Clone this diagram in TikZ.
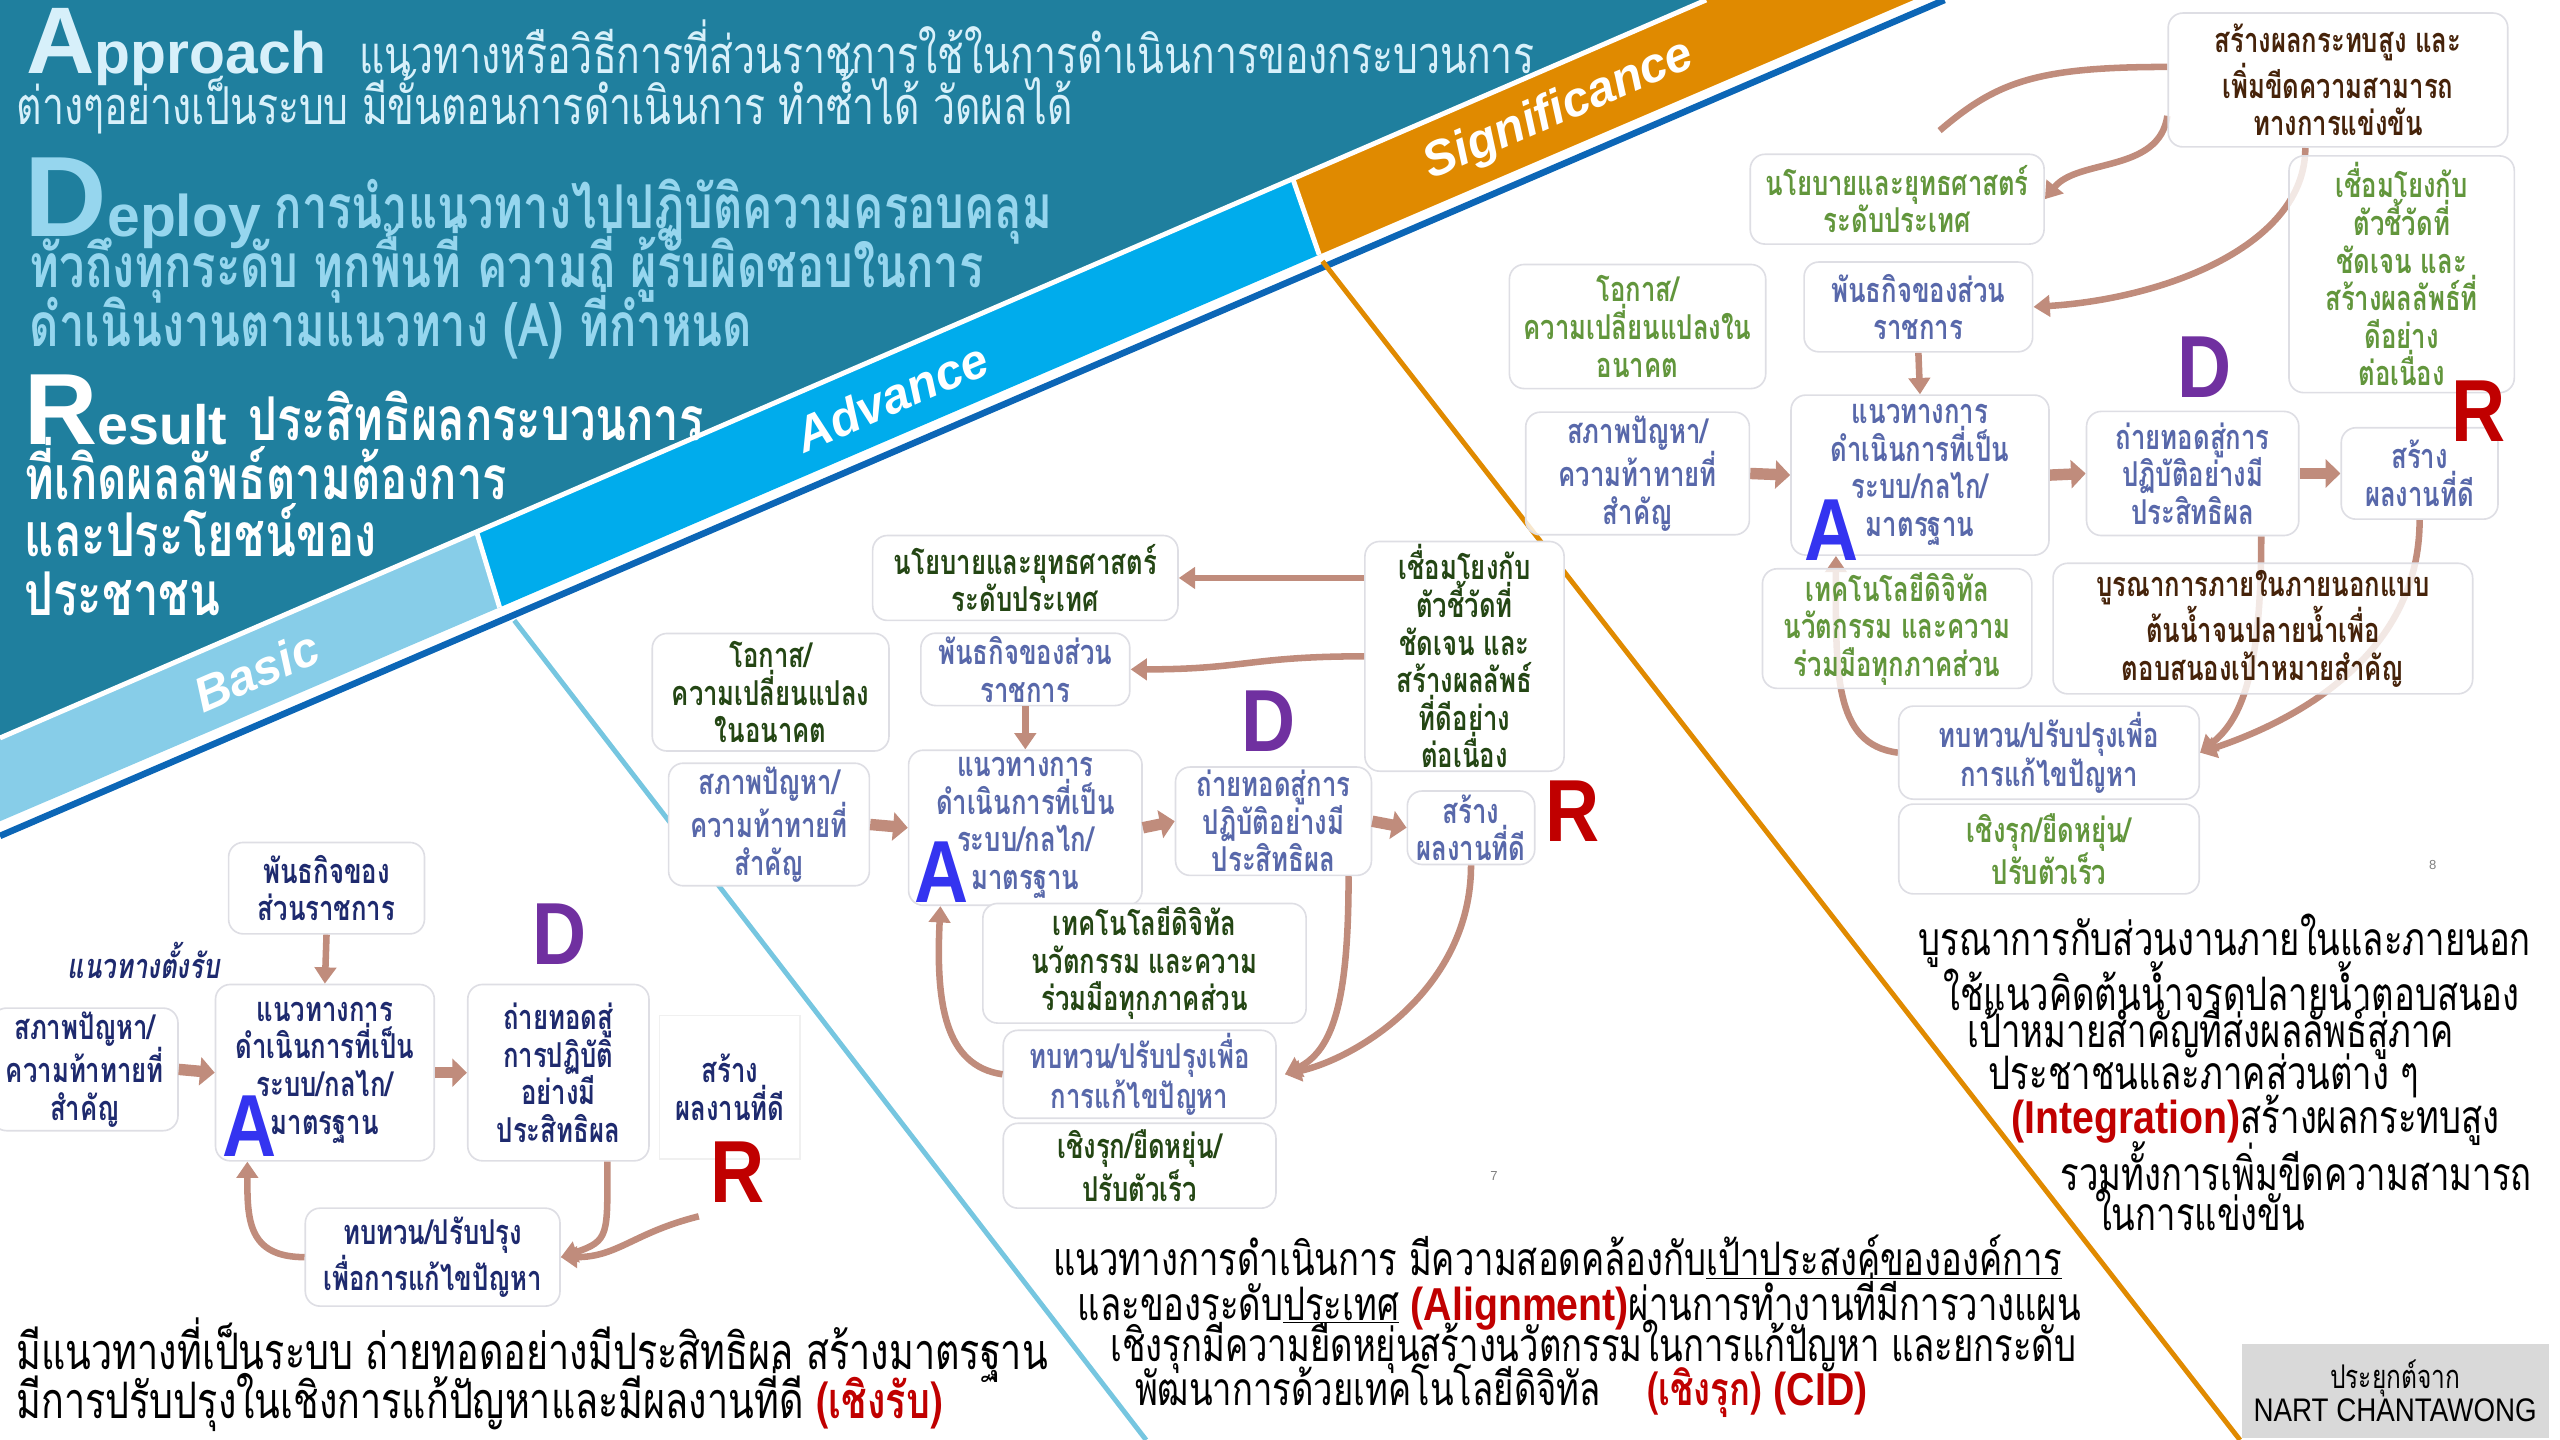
\documentclass[tikz,border=0pt]{standalone}
\usepackage{fontspec}
\setmainfont{Liberation Sans}
\newfontfamily\thai[Script=Thai]{Loma}
\newfontfamily\thain[Script=Thai,FakeStretch=0.75]{Loma}
\newfontfamily\latn[FakeStretch=0.85]{Liberation Sans}
\usetikzlibrary{arrows.meta,positioning,calc}

\definecolor{tealbg}{RGB}{31,127,158}
\definecolor{bandlt}{RGB}{135,205,232}
\definecolor{bandbl}{RGB}{0,172,236}
\definecolor{bandor}{RGB}{224,138,0}
\definecolor{linebl}{RGB}{12,102,182}
\definecolor{linelt}{RGB}{118,198,224}
\definecolor{arrc}{RGB}{192,140,124}
\definecolor{boxln}{RGB}{222,222,228}
\definecolor{navy}{RGB}{30,42,110}
\definecolor{peri}{RGB}{88,104,170}
\definecolor{grn}{RGB}{36,70,20}
\definecolor{grnlt}{RGB}{98,150,60}
\definecolor{brn}{RGB}{70,35,10}
\definecolor{letA}{RGB}{52,52,240}
\definecolor{letD}{RGB}{112,48,160}
\definecolor{letR}{RGB}{192,0,0}
\definecolor{appc}{RGB}{215,240,250}
\definecolor{depc}{RGB}{150,214,238}
\definecolor{credit}{RGB}{217,217,217}

\pgfdeclarelayer{back}
\pgfsetlayers{back,main}

\newcommand{\fs}[1]{\fontsize{#1}{#1}\selectfont}

\tikzset{
  box/.style={draw=boxln, fill=white, rounded corners=9pt, line width=1pt, align=center,
    inner sep=2pt, font=\thain\bfseries\fontsize{21}{23}\selectfont},
  sbox/.style={box, fill opacity=0.8, text opacity=1},
  arr/.style={draw=arrc, line width=4pt, -{Triangle[width=13pt,length=10pt]}},
  fat/.style={draw=arrc, line width=7pt, -{Triangle[width=17pt,length=9pt]}},
  letter/.style={font=\latn\bfseries\fs{54}},
  bandlbl/.style={font=\bfseries\itshape\fs{30}, text=white, rotate=23.4},
  body/.style={anchor=west, inner sep=0pt, font=\thain\fs{28.3}},
  hdr/.style={anchor=base west, inner sep=0pt, font=\bfseries},
}

\begin{document}
\begin{tikzpicture}[x=1pt,y=-1pt]
\useasboundingbox (0,0) rectangle (1568,882);

% Background and bands
\begin{pgfonlayer}{back}
  \fill[tealbg] (0,0) -- (1045,0) -- (0,452) -- cycle;
  \fill[bandlt] (0,452) -- (292,326) -- (306,372) -- (0,503) -- cycle;
  \fill[bandbl] (292,326) -- (792,110) -- (808,156) -- (306,372) -- cycle;
  \fill[bandor] (792,110) -- (1045,0) -- (1172,0) -- (808,156) -- cycle;
  \draw[white, line width=3pt] (0,452) -- (1045,0);
  \draw[white, line width=3pt] (292,326) -- (306,372) (792,110) -- (808,156);
  \draw[linebl, line width=4pt] (0,512) -- (1191,0);
  \draw[linelt, line width=3pt] (315,380) -- (702,882);
  \draw[bandor, line width=3pt] (810,160) -- (1372,882);
\end{pgfonlayer}

\node[bandlbl] (lbBasic) at (157,411) {Basic};
\node[bandlbl] (lbAdv) at (546,243) {Advance};
\node[bandlbl] (lbSig) at (955,68) {Significance};

% Header texts
\node[hdr, text=appc] (hApp) at (16,45) {{\fs{58}A}{\fs{36}pproach}};
\node[hdr, text=appc, font=\thain\fs{32}] (hAppT1) at (220,45) {แนวทางหรือวิธีการที่ส่วนราชการใช้ในการดำเนินการของกระบวนการ};
\node[hdr, text=appc, font=\thain\fs{32}] (hAppT2) at (10,76) {ต่างๆอย่างเป็นระบบ มีขั้นตอนการดำเนินการ ทำซ้ำได้ วัดผลได้};

\node[hdr, text=depc] (hDep) at (15,145) {{\fs{70}D}{\fs{36}eploy}};
\node[hdr, text=depc, font=\thain\bfseries\fs{37}] (hDepT1) at (168,140) {การนำแนวทางไปปฏิบัติความครอบคลุม};
\node[hdr, text=depc, font=\thain\bfseries\fs{37}] (hDepT2) at (18,176) {ทั่วถึงทุกระดับ ทุกพื้นที่ ความถี่ ผู้รับผิดชอบในการ};
\node[hdr, text=depc, font=\thain\bfseries\fs{37}] (hDepT3) at (18,212) {ดำเนินงานตามแนวทาง (A) ที่กำหนด};

\node[hdr, text=white] (hRes) at (15,272) {{\fs{62}R}{\fs{34}esult}};
\node[hdr, text=white, font=\thain\bfseries\fs{37}] (hResT1) at (152,270) {ประสิทธิผลกระบวนการ};
\node[hdr, text=white, font=\thain\bfseries\fs{37}] (hResT2) at (15,306) {ที่เกิดผลลัพธ์ตามต้องการ};
\node[hdr, text=white, font=\thain\bfseries\fs{37}] (hResT3) at (15,341) {และประโยชน์ของ};
\node[hdr, text=white, font=\thain\bfseries\fs{37}] (hResT4) at (15,377) {ประชาชน};

% Basic
\node[box, text=navy, minimum width=120, minimum height=56] (b_mission) at (200,544) {พันธกิจของ\\ส่วนราชการ};
\node[text=navy, font=\thain\bfseries\itshape\fs{21}] (b_label) at (88,588) {แนวทางตั้งรับ};
\node[box, text=navy, minimum width=114, minimum height=74] (b_state) at (52,655) {สภาพปัญหา/\\ความท้าทายที่\\สำคัญ};
\node[box, text=navy, minimum width=134, minimum height=108] (b_approach) at (199,657) {แนวทางการ\\ดำเนินการที่เป็น\\ระบบ/กลไก/\\มาตรฐาน};
\node[box, text=navy, minimum width=111, minimum height=108] (b_deploy) at (342,657) {ถ่ายทอดสู่\\การปฏิบัติ\\อย่างมี\\ประสิทธิผล};
\node[box, draw=gray!12, rounded corners=0pt, text=navy, minimum width=86, minimum height=88] (b_result) at (447,666) {สร้าง\\ผลงานที่ดี};
\node[box, text=navy, minimum width=156, minimum height=60] (b_review) at (265,770) {ทบทวน/ปรับปรุง\\เพื่อการแก้ไขปัญหา};
\node[letter, text=letD] (b_D) at (343,572) {D};
\node[letter, text=letA] (b_A) at (153,690) {A};
\node[letter, text=letR] (b_R) at (452,718) {R};
\coordinate (b_rtail) at (428,745);

\draw[arr] (b_mission.south) -- (b_approach.north);
\draw[fat] (b_state.east) -- (b_approach.west);
\draw[fat] (b_approach.east) -- (b_deploy.west);
\draw[arr] ($(b_deploy.south)+(30,0)$) .. controls +(0,45) and +(30,-10) .. (b_review.east);
\draw[arr] (b_rtail) .. controls +(-40,10) and +(35,0) .. (b_review.east);
\draw[arr] (b_review.west) .. controls +(-35,0) and +(0,35) .. ($(b_approach.south west)+(20,0)$);

\node[body, font=\thain\fs{30.8}] (b_txt1) at (10,827) {มีแนวทางที่เป็นระบบ ถ่ายทอดอย่างมีประสิทธิผล สร้างมาตรฐาน};
\node[body, font=\thain\fs{30.8}] (b_txt2) at (10,857) {มีการปรับปรุงในเชิงการแก้ปัญหาและมีผลงานที่ดี {\bfseries\color{letR}(เชิงรับ)}};

% Advance
\node[box, text=grn, minimum width=187, minimum height=52] (a_policy) at (628,354) {นโยบายและยุทธศาสตร์\\ระดับประเทศ};
\node[box, text=grn, minimum width=122, minimum height=137] (a_link) at (897,402) {เชื่อมโยงกับ\\ตัวชี้วัดที่\\ชัดเจน และ\\สร้างผลลัพธ์\\ที่ดีอย่าง\\ต่อเนื่อง};
\node[box, text=grn, minimum width=145, minimum height=72] (a_opp) at (472,424) {โอกาส/\\ความเปลี่ยนแปลง\\ในอนาคต};
\node[box, text=peri, minimum width=128, minimum height=44] (a_mission) at (628,410) {พันธกิจของส่วน\\ราชการ};
\node[box, text=peri, minimum width=123, minimum height=64] (a_state) at (471,505) {สภาพปัญหา/\\ความท้าทายที่\\สำคัญ};
\node[box, text=peri, minimum width=143, minimum height=95] (a_approach) at (628,507) {แนวทางการ\\ดำเนินการที่เป็น\\ระบบ/กลไก/\\มาตรฐาน};
\node[box, text=peri, minimum width=120, minimum height=65] (a_deploy) at (780,503) {ถ่ายทอดสู่การ\\ปฏิบัติอย่างมี\\ประสิทธิผล};
\node[box, text=peri, minimum width=78, minimum height=45] (a_result) at (901,507) {สร้าง\\ผลงานที่ดี};
\node[box, text=grn, minimum width=198, minimum height=70] (a_tech) at (701,590) {เทคโนโลยีดิจิทัล\\นวัตกรรม และความ\\ร่วมมือทุกภาคส่วน};
\node[box, text=peri, minimum width=167, minimum height=51] (a_review) at (698,658) {ทบทวน/ปรับปรุงเพื่อ\\การแก้ไขปัญหา};
\node[box, text=grn, minimum width=167, minimum height=52] (a_proact) at (698,714) {เชิงรุก/ยืดหยุ่น/\\ปรับตัวเร็ว};
\node[letter, text=letD] (a_D) at (777,442) {D};
\node[letter, text=letA] (a_A) at (577,534) {A};
\node[letter, text=letR] (a_R) at (963,497) {R};
\node[text=gray, font=\fs{8}] (a_page) at (915,720) {7};

\draw[arr] (a_link.west |- a_policy.east) -- (a_policy.east);
\draw[arr] (a_link.west) .. controls +(-70,0) and +(70,0) .. (a_mission.east);
\draw[arr] (a_mission.south) -- (a_approach.north);
\draw[fat] (a_state.east) -- (a_approach.west);
\draw[fat] (a_approach.east) -- (a_deploy.west);
\draw[fat] (a_deploy.east) -- (a_result.west);
\draw[arr] ($(a_deploy.south)+(46,0)$) .. controls +(0,75) and +(30,-15) .. ($(a_review.east)+(5,0)$);
\draw[arr] (a_result.south) .. controls +(0,75) and +(45,-10) .. ($(a_review.east)+(5,0)$);
\draw[arr] (a_review.west) .. controls +(-35,-5) and +(-3,60) .. ($(a_approach.south west)+(20,0)$);

\node[body] (a_txt1) at (645,770) {แนวทางการดำเนินการ มีความสอดคล้องกับ\underline{เป้าประสงค์ขององค์การ}};
\node[body] (a_txt2) at (660,797) {และของระดับ\underline{ประเทศ} {\latn\bfseries\color{letR}(Alignment)}ผ่านการทำงานที่มีการวางแผน};
\node[body] (a_txt3) at (680,825) {เชิงรุกมีความยืดหยุ่นสร้างนวัตกรรมในการแก้ปัญหา และยกระดับ};
\node[body] (a_txt4) at (695,852) {พัฒนาการด้วยเทคโนโลยีดิจิทัล\quad{\bfseries\color{letR}(เชิงรุก) {\latn(CID)}}};

% Significance
\node[sbox, text=brn, minimum width=208, minimum height=82] (s_impact) at (1432,49) {สร้างผลกระทบสูง และ\\เพิ่มขีดความสามารถ\\ทางการแข่งขัน};
\node[sbox, text=grnlt, minimum width=180, minimum height=55] (s_policy) at (1162,122) {นโยบายและยุทธศาสตร์\\ระดับประเทศ};
\node[sbox, text=grnlt, minimum width=138, minimum height=145] (s_link) at (1471,168) {เชื่อมโยงกับ\\ตัวชี้วัดที่\\ชัดเจน และ\\สร้างผลลัพธ์ที่\\ดีอย่าง\\ต่อเนื่อง};
\node[sbox, text=grnlt, minimum width=157, minimum height=76] (s_opp) at (1003,200) {โอกาส/\\ความเปลี่ยนแปลงใน\\อนาคต};
\node[sbox, text=peri, minimum width=140, minimum height=55] (s_mission) at (1175,188) {พันธกิจของส่วน\\ราชการ};
\node[sbox, text=peri, minimum width=137, minimum height=70] (s_state) at (1003,290) {สภาพปัญหา/\\ความท้าทายที่\\สำคัญ};
\node[sbox, text=peri, minimum width=158, minimum height=98] (s_approach) at (1176,291) {แนวทางการ\\ดำเนินการที่เป็น\\ระบบ/กลไก/\\มาตรฐาน};
\node[sbox, text=peri, minimum width=130, minimum height=76] (s_deploy) at (1343,290) {ถ่ายทอดสู่การ\\ปฏิบัติอย่างมี\\ประสิทธิผล};
\node[sbox, text=peri, minimum width=96, minimum height=56] (s_result) at (1482,290) {สร้าง\\ผลงานที่ดี};
\node[sbox, text=grnlt, minimum width=165, minimum height=70] (s_tech) at (1162,385) {เทคโนโลยีดิจิทัล\\นวัตกรรม และความ\\ร่วมมือทุกภาคส่วน};
\node[sbox, text=brn, minimum width=257, minimum height=80] (s_integ) at (1386,385) {บูรณาการภายในภายนอกแบบ\\ต้นน้ำจนปลายน้ำเพื่อ\\ตอบสนองเป้าหมายสำคัญ};
\node[sbox, text=peri, minimum width=184, minimum height=57] (s_review) at (1255,461) {ทบทวน/ปรับปรุงเพื่อ\\การแก้ไขปัญหา};
\node[sbox, text=grnlt, minimum width=184, minimum height=55] (s_proact) at (1255,520) {เชิงรุก/ยืดหยุ่น/\\ปรับตัวเร็ว};
\node[letter, text=letD] (s_D) at (1350,225) {D};
\node[letter, text=letA] (s_A) at (1122,325) {A};
\node[letter, text=letR] (s_R) at (1518,252) {R};
\node[text=gray, font=\fs{8}] (s_page) at (1490,530) {8};
\coordinate (s_hid) at (1188,80);

\begin{pgfonlayer}{back}
  \draw[draw=arrc, line width=4pt] ($(s_impact.west)+(0,-8)$) .. controls +(-80,0) and +(35,-30) .. (s_hid);
  \draw[arr] ($(s_impact.west)+(0,22)$) .. controls +(-5,35) and +(20,-25) .. (s_policy.east);
  \draw[arr] ($(s_impact.south)+(-20,0)$) .. controls +(0,60) and +(80,-5) .. (s_mission.east);
  \draw[arr] (s_mission.south) -- (s_approach.north);
  \draw[fat] (s_state.east) -- (s_approach.west);
  \draw[fat] (s_approach.east) -- (s_deploy.west);
  \draw[fat] (s_deploy.east) -- (s_result.west);
  \draw[arr] ($(s_deploy.south)+(42,0)$) .. controls +(0,85) and +(25,-20) .. (s_review.east);
  \draw[arr] (s_result.south) .. controls +(0,90) and +(45,-15) .. (s_review.east);
  \draw[arr] (s_review.west) .. controls +(-40,-5) and +(0,70) .. ($(s_approach.south west)+(28,0)$);
\end{pgfonlayer}

\node[body] (s_txt1) at (1175,576) {บูรณาการกับส่วนงานภายในและภายนอก};
\node[body] (s_txt2) at (1190,604) {ใช้แนวคิดต้นน้ำจรดปลายน้ำตอบสนอง};
\node[body] (s_txt3) at (1205,631) {เป้าหมายสำคัญที่ส่งผลลัพธ์สู่ภาค};
\node[body] (s_txt4) at (1218,659) {ประชาชนและภาคส่วนต่าง ๆ};
\node[body] (s_txt5) at (1232,686) {{\latn\bfseries\color{letR}(Integration)}สร้างผลกระทบสูง};
\node[body] (s_txt6) at (1262,714) {รวมทั้งการเพิ่มขีดความสามารถ};
\node[body] (s_txt7) at (1283,741) {ในการแข่งขัน};

\node[fill=credit, minimum width=188, minimum height=58, align=center, font=\thain\fs{20}] (credit) at (1467,852) {ประยุกต์จาก\\{\latn NART CHANTAWONG}};

\end{tikzpicture}
\end{document}
